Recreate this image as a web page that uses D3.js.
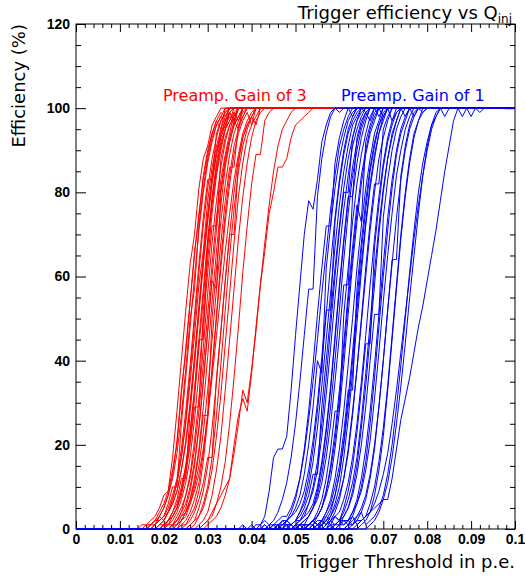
<!DOCTYPE html>
<html>
<head>
<meta charset="utf-8">
<script src="https://cdn.jsdelivr.net/npm/d3@7/dist/d3.min.js"></script>
<style>
  html, body { margin: 0; padding: 0; background: #fff; }
  svg { display: block; }
</style>
</head>
<body>
<svg id="chart" width="525" height="580"></svg>
<script>
// ---- Data (threshold bins of 0.001 p.e.; efficiency in %) ----
// Each curve: [first listed bin index, efficiency values from that bin on].
// Bins before the start are 0 %, bins after the listed values are 100 %.
const thresholdBins = d3.range(0, 101);           // 0 .. 100  ->  0 .. 0.1 p.e.
const binWidth = 0.001;

const redCurves = [
  [15, [1,1,2,3,5,8,9,17,28,40,52,63,70,81,88,91,96,98,100]],
  [17, [1,2,3,5,8,13,21,33,42,54,66,74,84,90,94,97,95,100]],
  [16, [1,1,2,4,6,9,14,20,32,43,54,65,75,83,89,94,97,99,98,100]],
  [17, [1,1,3,5,8,12,18,27,38,50,57,72,81,88,93,96,98,100]],
  [18, [1,2,3,6,10,10,25,36,48,60,71,80,87,92,96,98,97,100]],
  [17, [1,2,2,3,5,8,12,19,28,39,51,63,74,83,83,94,97,99,100]],
  [18, [1,3,2,4,7,11,17,26,37,49,61,72,81,88,93,97,99,100]],
  [19, [1,2,4,7,11,17,25,35,46,58,66,78,86,91,95,98,100]],
  [18, [1,2,3,4,6,9,14,21,30,41,53,65,75,84,90,94,96,99,97,100]],
  [20, [1,2,4,7,12,12,28,39,51,63,74,83,89,94,97,99,100]],
  [19, [1,1,2,4,6,10,15,23,33,45,45,68,78,86,92,95,97,100]],
  [20, [1,2,3,5,9,14,21,31,43,55,67,77,85,91,95,99,97,100]],
  [21, [1,3,5,9,15,23,33,45,57,69,79,87,93,96,98,96,100]],
  [20, [1,1,2,4,7,11,17,26,37,49,61,72,72,88,93,96,98,100]],
  [21, [2,3,5,8,13,20,29,29,52,64,75,84,90,95,97,99,100]],
  [22, [1,2,4,8,13,21,31,43,56,68,78,86,92,96,98,100]],
  [21, [1,1,3,5,8,12,19,28,39,51,63,74,83,89,94,99,97,100]],
  [22, [1,2,4,6,10,16,24,35,47,59,57,80,87,92,96,98,100]],
  [23, [1,3,5,9,15,24,35,47,60,71,81,88,93,97,95,100]],
  [22, [1,1,2,4,7,11,18,27,27,50,62,73,82,89,94,97,99,100]],
  [24, [2,4,7,12,19,29,41,54,66,77,86,92,96,98,100]],
  [23, [1,2,3,6,10,15,23,33,45,57,68,78,86,86,96,98,100]],
  [24, [1,2,4,7,11,18,27,38,50,62,73,82,89,94,97,99,96,100]],
  [25, [1,3,5,9,16,26,38,51,64,75,84,91,95,98,100]],
  [24, [1,1,2,4,7,11,17,17,36,47,59,70,80,88,93,96,98,100]],
  [26, [1,2,5,9,15,24,35,47,59,70,70,87,93,96,98,100]],
  [26, [1,2,3,5,9,14,22,32,44,56,68,79,87,93,96,98,100]],
  [27, [1,3,6,10,17,27,39,52,65,76,85,91,95,98,96,100]],
  [28, [1,2,4,8,14,22,33,45,57,69,79,87,93,97,99,100]],
  [29, [1,2,3,6,10,16,25,36,48,61,72,82,89,89,97,99,100]],
  [29, [1,2,4,6,8,10,12,20,27,31,28,37,48,58,66,75,80,86,86,88,93,96,97,98,99,100]],
  [30, [1,2,3,5,8,12,18,25,33,30,38,47,58,68,77,85,91,95,97,99,100]],
  [22, [1,2,3,4,6,9,13,19,27,36,46,56,66,75,83,89,94,97,99,100]],
  [19, [1,2,4,6,9,14,20,29,40,52,63,73,82,89,94,97,99,100]]
];

const blueCurves = [
  [42, [1,3,9,17,19,19,22,33,46,58,70,78,76,83,92,96,99,100]],
  [38, [1,0,0,1,1,2,1,2,4,7,11,17,25,35,46,57,57,79,88,94,98,100,99,100]],
  [46, [1,1,2,4,7,12,19,28,39,51,62,72,72,87,93,97,100,98,100]],
  [40, [1,0,0,1,0,1,2,3,3,5,8,12,18,26,35,45,56,66,76,84,91,95,98,100]],
  [47, [1,2,3,5,8,13,20,29,40,37,62,72,81,88,93,97,99,100]],
  [43, [1,0,1,1,0,1,1,2,4,7,12,19,28,39,51,63,74,83,90,95,98,100]],
  [46, [1,2,2,3,4,6,9,14,21,30,41,52,52,73,82,89,94,97,99,100]],
  [44, [1,1,0,2,1,1,2,4,6,10,16,24,34,45,56,67,77,85,91,96,98,100]],
  [48, [1,1,2,3,5,8,13,13,29,40,51,62,72,81,88,93,97,100,99,100]],
  [50, [1,2,3,6,10,16,25,36,48,60,71,80,80,93,97,99,100]],
  [45, [1,0,1,2,1,2,2,4,6,9,14,22,32,43,55,66,76,84,91,95,98,100]],
  [51, [1,1,3,5,9,15,23,33,45,57,68,78,86,92,96,99,97,100,98,100]],
  [50, [1,2,3,4,6,10,16,24,34,46,58,69,79,79,93,97,99,100]],
  [47, [1,1,0,1,1,2,3,5,8,13,20,29,40,52,64,75,84,90,95,98,100]],
  [51, [1,2,3,5,7,11,17,25,35,46,58,58,79,87,93,97,100]],
  [53, [1,2,4,7,12,19,28,28,51,62,73,82,89,94,98,100]],
  [46, [1,0,2,1,0,1,1,1,2,3,5,9,14,21,31,42,54,65,75,84,90,95,98,100]],
  [54, [1,3,5,9,15,23,33,44,56,67,77,73,92,96,99,100]],
  [53, [1,2,3,5,8,12,19,28,39,51,63,73,82,89,94,97,100,98,100]],
  [49, [1,0,1,0,1,2,1,2,4,7,12,19,28,39,50,62,72,81,88,94,97,100]],
  [54, [1,2,2,4,6,10,15,23,33,33,57,68,78,86,92,96,98,100]],
  [56, [1,2,4,8,13,21,31,42,54,66,76,85,91,96,99,100]],
  [55, [1,1,3,5,8,13,20,29,40,52,63,73,82,89,94,98,100,97,100]],
  [50, [1,0,1,1,2,1,2,1,3,6,10,17,26,37,49,61,72,81,88,94,97,100]],
  [56, [1,2,3,5,8,12,18,27,38,50,62,73,82,82,95,98,100]],
  [58, [2,4,7,12,19,28,38,49,60,71,80,88,93,97,100]],
  [51, [1,0,1,2,1,2,1,2,3,4,7,11,17,25,35,46,58,69,79,87,93,97,99,100]],
  [59, [1,2,5,9,15,23,33,44,44,67,77,86,92,96,99,100]],
  [58, [1,1,2,4,7,11,17,26,37,49,61,72,81,88,94,97,100,98,100]],
  [53, [1,1,0,2,3,2,1,1,3,5,9,15,24,34,46,58,70,80,88,93,97,100]],
  [59, [1,2,3,5,8,13,20,29,40,51,51,74,83,90,95,98,100]],
  [55, [1,0,1,2,3,2,1,2,4,7,12,19,28,39,51,63,74,83,90,95,98,100]],
  [60, [1,2,2,4,6,9,14,21,31,42,54,65,75,84,90,95,98,100]],
  [62, [1,3,6,10,16,25,36,48,60,71,81,89,94,97,100,98,100,99,100]],
  [56, [1,2,1,3,2,2,1,2,3,5,8,13,20,29,40,52,63,74,83,90,95,98,100]],
  [63, [1,2,4,7,12,19,29,40,52,64,64,84,91,96,99,100]],
  [58, [1,0,1,2,2,3,1,2,3,6,10,16,24,34,46,58,70,80,88,94,97,99,100]],
  [65, [1,2,4,8,14,22,33,45,57,69,79,87,93,97,100]],
  [60, [1,1,2,1,3,4,1,2,3,5,8,13,20,29,39,50,61,71,80,87,92,96,98,100]],
  [62, [1,1,2,2,3,4,5,6,7,7,12,19,26,31,36,42,48,53,59,65,71,78,85,91,97,100,98,100,98,100,99,100]],
  [64, [1,2,3,4,6,9,13,18,25,33,42,51,60,69,77,84,90,95,98,100,98,100]],
  [67, [1,2,4,7,11,17,25,34,44,55,65,75,84,91,96,99,100]]
];

const xTicks = [0, 0.01, 0.02, 0.03, 0.04, 0.05, 0.06, 0.07, 0.08, 0.09, 0.1];
const xTickLabels = ["0", "0.01", "0.02", "0.03", "0.04", "0.05", "0.06", "0.07", "0.08", "0.09", "0.1"];
const yTicks = [0, 20, 40, 60, 80, 100, 120];
const seriesLabels = ["Preamp. Gain of 3", "Preamp. Gain of 1"];
const seriesColors = ["#ff0000", "#0000ff"];
const titleMain = "Trigger efficiency vs Q";
const titleSub = "inj";
const xTitle = "Trigger Threshold in p.e.";
const yTitle = "Efficiency (%)";

// ---- Layout ----
const W = 525, H = 580;
const plot = { left: 76, right: 515, top: 24, bottom: 529 };

const svg = d3.select("#chart");
svg.append("rect").attr("width", W).attr("height", H).attr("fill", "#fff");

const x = d3.scaleLinear().domain([0, 0.1]).range([plot.left, plot.right]);
const y = d3.scaleLinear().domain([0, 120]).range([plot.bottom, plot.top]);

const tickFont = "'Liberation Sans', Arial, sans-serif";
const textFont = "'DejaVu Sans', Verdana, sans-serif";

function styleAxis(g) {
  g.select(".domain").remove();
  g.selectAll(".tick line").attr("stroke", "#000").attr("stroke-width", 1);
  g.selectAll(".tick text").attr("fill", "#000")
    .attr("font-family", tickFont).attr("font-weight", "bold").attr("font-size", 14);
}

const xMinor = d3.range(0, 51).map(i => i * 0.002).filter(v => Math.abs(v * 100 - Math.round(v * 100)) > 1e-9);
const yMinor = d3.range(0, 25).map(i => i * 5).filter(v => v % 20 !== 0);

// bottom axis
svg.append("g").attr("transform", `translate(0,${plot.bottom})`)
  .call(d3.axisBottom(x).tickValues(xTicks).tickFormat((d, i) => xTickLabels[i]).tickSize(-8).tickPadding(5))
  .call(styleAxis);
svg.append("g").attr("transform", `translate(0,${plot.bottom})`)
  .call(d3.axisBottom(x).tickValues(xMinor).tickFormat("").tickSize(-4))
  .call(styleAxis);
// top axis
svg.append("g").attr("transform", `translate(0,${plot.top})`)
  .call(d3.axisTop(x).tickValues(xTicks).tickFormat("").tickSize(-8))
  .call(styleAxis);
svg.append("g").attr("transform", `translate(0,${plot.top})`)
  .call(d3.axisTop(x).tickValues(xMinor).tickFormat("").tickSize(-4))
  .call(styleAxis);
// left axis
svg.append("g").attr("transform", `translate(${plot.left},0)`)
  .call(d3.axisLeft(y).tickValues(yTicks).tickFormat(d3.format("d")).tickSize(-10).tickPadding(6))
  .call(styleAxis);
svg.append("g").attr("transform", `translate(${plot.left},0)`)
  .call(d3.axisLeft(y).tickValues(yMinor).tickFormat("").tickSize(-5))
  .call(styleAxis);
// right axis
svg.append("g").attr("transform", `translate(${plot.right},0)`)
  .call(d3.axisRight(y).tickValues(yTicks).tickFormat("").tickSize(-10))
  .call(styleAxis);
svg.append("g").attr("transform", `translate(${plot.right},0)`)
  .call(d3.axisRight(y).tickValues(yMinor).tickFormat("").tickSize(-5))
  .call(styleAxis);

// frame
svg.append("rect")
  .attr("x", plot.left).attr("y", plot.top)
  .attr("width", plot.right - plot.left).attr("height", plot.bottom - plot.top)
  .attr("fill", "none").attr("stroke", "#000").attr("stroke-width", 1);

// curves
svg.append("clipPath").attr("id", "clip").append("rect")
  .attr("x", plot.left).attr("y", plot.top - 1)
  .attr("width", plot.right - plot.left).attr("height", plot.bottom - plot.top + 2);

function expand(curve) {
  const [start, vals] = curve;
  return thresholdBins.map(i => {
    let v;
    if (i < start) v = 0;
    else if (i - start < vals.length) v = vals[i - start];
    else v = 100;
    return [i * binWidth, v];
  });
}

const line = d3.line().x(d => x(d[0])).y(d => y(d[1]));
const curvesG = svg.append("g").attr("clip-path", "url(#clip)");

[redCurves, blueCurves].forEach((set, k) => {
  curvesG.append("g").selectAll("path").data(set).join("path")
    .attr("d", c => line(expand(c)))
    .attr("fill", "none")
    .attr("stroke", seriesColors[k])
    .attr("stroke-width", 1);
});

// series labels
svg.append("text").attr("x", 163).attr("y", 101)
  .attr("font-family", textFont).attr("font-size", 16).attr("fill", seriesColors[0])
  .text(seriesLabels[0]);
svg.append("text").attr("x", 341).attr("y", 101)
  .attr("font-family", textFont).attr("font-size", 16).attr("fill", seriesColors[1])
  .text(seriesLabels[1]);

// title
const t = svg.append("text").attr("x", 512).attr("y", 19).attr("text-anchor", "end")
  .attr("font-family", textFont).attr("font-size", 18).attr("fill", "#000");
t.append("tspan").text(titleMain);
t.append("tspan").attr("font-size", 12).attr("dy", 4).text(titleSub);

// axis titles
svg.append("text").attr("x", plot.right).attr("y", 568).attr("text-anchor", "end")
  .attr("font-family", textFont).attr("font-size", 18).attr("fill", "#000")
  .text(xTitle);
svg.append("text").attr("transform", `translate(25,${plot.top}) rotate(-90)`)
  .attr("text-anchor", "end")
  .attr("font-family", textFont).attr("font-size", 18).attr("fill", "#000")
  .text(yTitle);
</script>
</body>
</html>
